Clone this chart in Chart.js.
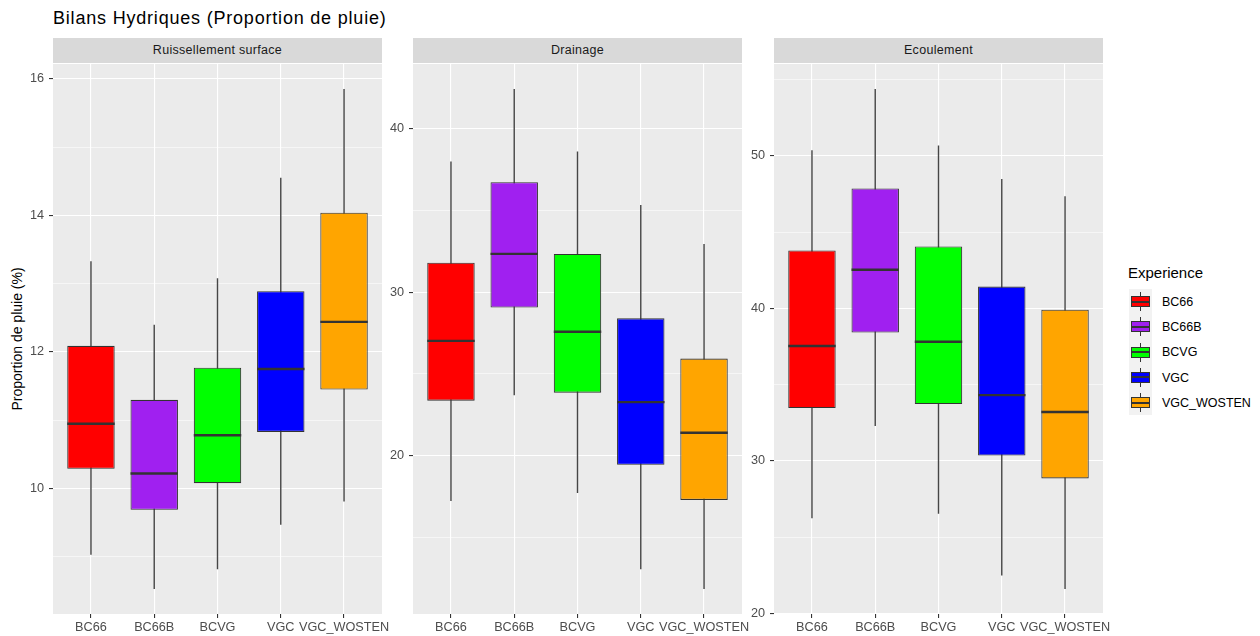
<!DOCTYPE html>
<html>
<head>
<meta charset="utf-8">
<script src="https://cdn.jsdelivr.net/npm/chart.js@4.4.1/dist/chart.umd.min.js"></script>
<style>
  body { margin: 0; background: #fff; font-family: "Liberation Sans", Arial, sans-serif; }
  #wrap { position: relative; width: 1260px; height: 636px; overflow: hidden; }
  .abs { position: absolute; white-space: nowrap; }
  #title { left: 53px; top: 6px; font-size: 18px; letter-spacing: 0.8px; line-height: 24px; color: #000; }
  .strip { top: 38px; width: 329px; height: 25px; line-height: 25px; background: #D9D9D9;
           color: #1A1A1A; font-size: 12.5px; text-align: center; letter-spacing: 0.3px; }
  .panel { top: 64px; }
  #ylab { left: 17px; top: 339px; font-size: 14px; color: #000;
          transform: translate(-50%, -50%) rotate(-90deg); }
  #legTitle { left: 1128px; top: 263px; font-size: 15px; line-height: 20px; color: #000; }
  .key { left: 1129px; width: 23px; height: 25.3px; background: #F2F2F2; }
  .key .wh { position: absolute; left: 11px; top: 3px; width: 1.2px; height: 19px; background: #333; }
  .key .bx { position: absolute; left: 2px; top: 7px; width: 19px; height: 11px; box-sizing: border-box;
             border: 1px solid #333; }
  .key .md { position: absolute; left: 0; right: 0; top: 3.5px; height: 2px; background: #333; }
  .legTxt { left: 1162px; font-size: 12.5px; line-height: 16px; color: #000; }
</style>
</head>
<body>
<div id="wrap">
  <div id="title" class="abs">Bilans Hydriques (Proportion de pluie)</div>
  <div id="ylab" class="abs">Proportion de pluie (%)</div>
  <div id="legTitle" class="abs">Experience</div>
</div>
<script>
const categories = ['BC66', 'BC66B', 'BCVG', 'VGC', 'VGC_WOSTEN'];
const colors = ['#FF0000', '#A020F0', '#00FF00', '#0000FF', '#FFA500'];

// Ruissellement surface
const ruisMin = [9.03, 8.53, 8.82, 9.47, 9.81];
const ruisQ1 = [10.29, 9.69, 10.08, 10.83, 11.45];
const ruisMed = [10.95, 10.22, 10.78, 11.75, 12.44];
const ruisQ3 = [12.09, 11.30, 11.77, 12.89, 14.04];
const ruisMax = [13.33, 12.40, 13.08, 14.55, 15.85];

// Drainage
const drainMin = [17.22, 23.70, 17.72, 13.05, 11.84];
const drainQ1 = [23.36, 29.06, 23.85, 19.44, 17.29];
const drainMed = [27.02, 32.34, 27.58, 23.27, 21.40];
const drainQ3 = [31.80, 36.73, 32.34, 28.40, 25.94];
const drainMax = [38.00, 42.43, 38.60, 35.33, 32.94];

// Ecoulement
const ecoMin = [26.24, 32.28, 26.54, 22.49, 21.60];
const ecoQ1 = [33.46, 38.41, 33.73, 30.35, 28.85];
const ecoMed = [37.53, 42.53, 37.81, 34.31, 33.20];
const ecoQ3 = [43.80, 47.86, 44.06, 41.43, 39.91];
const ecoMax = [50.37, 54.38, 50.67, 48.48, 47.35];

const panels = [
  { name: 'Ruissellement surface', left: 53, lo: ruisMin, q1: ruisQ1, med: ruisMed, q3: ruisQ3, hi: ruisMax, minor: 1, major: 2 },
  { name: 'Drainage', left: 413, lo: drainMin, q1: drainQ1, med: drainMed, q3: drainQ3, hi: drainMax, minor: 5, major: 10 },
  { name: 'Ecoulement', left: 774, lo: ecoMin, q1: ecoQ1, med: ecoMed, q3: ecoQ3, hi: ecoMax, minor: 5, major: 10 }
];

const FONT = '"Liberation Sans", Arial, sans-serif';
Chart.defaults.font.family = FONT;

const panelBg = {
  id: 'panelBg',
  beforeDraw(chart) {
    const { ctx, chartArea: a } = chart;
    ctx.save();
    ctx.fillStyle = '#EBEBEB';
    ctx.fillRect(a.left, a.top, a.width, a.height);
    ctx.restore();
  }
};

const medians = {
  id: 'medians',
  afterDatasetsDraw(chart, args, opts) {
    const meta = chart.getDatasetMeta(1);
    const y = chart.scales.y;
    const ctx = chart.ctx;
    ctx.save();
    ctx.strokeStyle = '#333333';
    ctx.lineWidth = 2.4;
    meta.data.forEach((bar, i) => {
      const p = bar.getProps(['x', 'width'], true);
      const py = y.getPixelForValue(opts.values[i]);
      ctx.beginPath();
      ctx.moveTo(p.x - p.width / 2, py);
      ctx.lineTo(p.x + p.width / 2, py);
      ctx.stroke();
    });
    ctx.restore();
  }
};

const wrap = document.getElementById('wrap');
const Y_AXIS_W = 45;
const RIGHT_PAD = 12;

panels.forEach(p => {
  const strip = document.createElement('div');
  strip.className = 'abs strip';
  strip.style.left = p.left + 'px';
  strip.textContent = p.name;
  wrap.appendChild(strip);

  const canvas = document.createElement('canvas');
  canvas.className = 'abs panel';
  canvas.style.left = (p.left - Y_AXIS_W) + 'px';
  canvas.width = Y_AXIS_W + 329 + RIGHT_PAD;
  canvas.height = 636 - 64;
  wrap.appendChild(canvas);

  // ggplot style 5% expansion of the data range
  const dMin = Math.min(...p.lo), dMax = Math.max(...p.hi);
  const pad = (dMax - dMin) * 0.05;
  const isMajor = v => Math.abs(v / p.major - Math.round(v / p.major)) < 1e-6;

  new Chart(canvas, {
    type: 'bar',
    data: {
      datasets: [
        {
          data: categories.map((c, i) => ({ x: i + 1, y: [p.lo[i], p.hi[i]] })),
          backgroundColor: '#454545',
          maxBarThickness: 1.4,
          grouped: false,
          order: 1
        },
        {
          data: categories.map((c, i) => ({ x: i + 1, y: [p.q1[i], p.q3[i]] })),
          backgroundColor: colors,
          borderColor: '#333333',
          borderWidth: 1.1,
          borderSkipped: false,
          barPercentage: 0.75,
          categoryPercentage: 1,
          grouped: false,
          order: 0
        }
      ]
    },
    options: {
      responsive: false,
      animation: false,
      devicePixelRatio: 1,
      layout: { padding: { left: 0, top: 0, bottom: 0, right: RIGHT_PAD } },
      plugins: {
        legend: { display: false },
        tooltip: { enabled: false },
        medians: { values: p.med }
      },
      scales: {
        x: {
          type: 'linear',
          min: 0.4,
          max: 5.6,
          offset: false,
          afterFit(s) { s.height = 22; s.paddingLeft = 0; s.paddingRight = 0; },
          border: { display: false },
          grid: { offset: false, color: '#FFFFFF', lineWidth: 1.1, tickColor: '#333333', tickLength: 4 },
          ticks: {
            stepSize: 1, includeBounds: false, autoSkip: false, maxRotation: 0, minRotation: 0,
            padding: 2, color: '#4D4D4D', font: { size: 12.7 },
            callback: v => categories[Math.round(v) - 1] || ''
          }
        },
        y: {
          type: 'linear',
          min: dMin - pad,
          max: dMax + pad,
          afterFit(s) { s.width = Y_AXIS_W; s.paddingTop = 0; s.paddingBottom = 0; },
          border: { display: false },
          grid: {
            color: '#FFFFFF',
            lineWidth: c => (c.tick && isMajor(c.tick.value)) ? 1.1 : 0.55,
            tickColor: c => (c.tick && isMajor(c.tick.value)) ? '#333333' : 'rgba(0,0,0,0)',
            tickLength: 4
          },
          ticks: {
            stepSize: p.minor, includeBounds: false, autoSkip: false,
            padding: 5, color: '#4D4D4D', font: { size: 12.7 },
            callback: v => isMajor(v) ? String(Math.round(v)) : ''
          }
        }
      }
    },
    plugins: [panelBg, medians]
  });
});

// legend keys
categories.forEach((c, i) => {
  const top = 289 + i * 25.3;
  const key = document.createElement('div');
  key.className = 'abs key';
  key.style.top = top + 'px';
  key.innerHTML = '<div class="wh"></div><div class="bx" style="background:' + colors[i] + '"><div class="md"></div></div>';
  wrap.appendChild(key);
  const txt = document.createElement('div');
  txt.className = 'abs legTxt';
  txt.style.top = (top + 12.65 - 8) + 'px';
  txt.textContent = c;
  wrap.appendChild(txt);
});
</script>
</body>
</html>
